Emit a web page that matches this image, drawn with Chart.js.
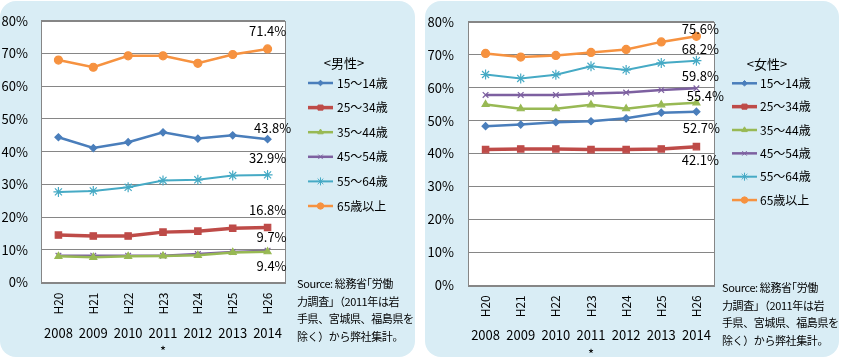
<!DOCTYPE html>
<html><head><meta charset="utf-8">
<script src="https://cdn.jsdelivr.net/npm/chart.js@4.4.1/dist/chart.umd.min.js"></script>
<style>
html,body{margin:0;padding:0;background:#fff;width:841px;height:360px;overflow:hidden;font-family:"Noto Sans CJK JP",sans-serif;}
.panel{position:absolute;top:1px;height:356px;background:#d9edf5;border-radius:16px;}
canvas{position:absolute;top:0;}
.src{position:absolute;font-size:11px;line-height:17.6px;color:#000;white-space:nowrap;letter-spacing:-0.4px;}
</style></head>
<body>
<div class="panel" style="left:0;width:415px"></div>
<div class="panel" style="left:425px;width:414px"></div>
<canvas id="cm" width="415" height="360" style="left:0;width:415px;height:360px"></canvas>
<canvas id="cf" width="414" height="360" style="left:425px;width:414px;height:360px"></canvas>
<div class="src" style="left:297px;top:275px">Source: 総務省｢労働<br>力調査」（2011年は岩<br>手県、宮城県、福島県を<br>除く）から弊社集計。</div>
<div class="src" style="left:722px;top:279px">Source: 総務省｢労働<br>力調査」（2011年は岩<br>手県、宮城県、福島県を<br>除く）から弊社集計。</div>
<script>
// ---- data ----
const heisei = ['H20','H21','H22','H23','H24','H25','H26'];
const years = ['2008','2009','2010','2011','2012','2013','2014'];
const noteYear = '2011';
const seriesNames = ['15～14歳','25～34歳','35～44歳','45～54歳','55～64歳','65歳以上'];
const yTicks = [0,10,20,30,40,50,60,70,80];

const male15 = [44.4, 41.1, 42.9, 45.9, 44.0, 45.0, 43.8];
const male25 = [14.5, 14.2, 14.2, 15.4, 15.7, 16.6, 16.8];
const male35 = [8.0, 7.7, 8.0, 8.1, 8.3, 9.2, 9.4];
const male45 = [8.2, 8.2, 8.2, 8.2, 8.7, 9.3, 9.7];
const male55 = [27.7, 28.0, 29.1, 31.2, 31.4, 32.7, 32.9];
const male65 = [68.0, 65.8, 69.3, 69.3, 67.0, 69.7, 71.4];

const female15 = [48.3, 48.8, 49.5, 49.8, 50.7, 52.4, 52.7];
const female25 = [41.2, 41.4, 41.4, 41.2, 41.2, 41.4, 42.1];
const female35 = [54.9, 53.6, 53.6, 54.8, 53.6, 54.8, 55.4];
const female45 = [57.8, 57.8, 57.8, 58.2, 58.5, 59.3, 59.8];
const female55 = [64.0, 62.8, 63.9, 66.5, 65.4, 67.5, 68.2];
const female65 = [70.4, 69.3, 69.8, 70.7, 71.6, 73.9, 75.6];

// ---- styles ----
const FONT = '"Noto Sans CJK JP", "Noto Sans", sans-serif';
Chart.defaults.font.family = FONT;
Chart.defaults.color = '#000';
const seriesStyle = [
  {color:'#4a7ebb', width:2.5, point:'rectRot', r:3.5},
  {color:'#be4b48', width:3.5, point:'rect', r:4.5},
  {color:'#98b954', width:2.5, point:'triangle', r:4},
  {color:'#7d60a0', width:2.5, point:'crossRot', r:4},
  {color:'#46aac5', width:2, point:'star', r:5},
  {color:'#f69240', width:2.5, point:'circle', r:4}
];

const framePlugin = {
  id:'frame',
  beforeDraw(chart){
    const {ctx, chartArea:a} = chart;
    ctx.save(); ctx.fillStyle='#fff'; ctx.fillRect(a.left,a.top,a.width,a.height); ctx.restore();
  },
  beforeDatasetsDraw(chart){
    const {ctx, chartArea:a} = chart;
    ctx.save(); ctx.strokeStyle='#868686'; ctx.lineWidth=1;
    ctx.strokeRect(Math.round(a.left)+0.5, Math.round(a.top)+0.5, Math.round(a.width), Math.round(a.height));
    ctx.restore();
  }
};

const endLabelPlugin = {
  id:'endLabels',
  afterDatasetsDraw(chart, args, opts){
    const ctx = chart.ctx;
    ctx.save();
    ctx.font = '13px ' + FONT; ctx.fillStyle='#000'; ctx.textAlign='center'; ctx.textBaseline='middle';
    chart.data.datasets.forEach((ds,i)=>{
      const meta = chart.getDatasetMeta(i);
      const n = ds.data.length-1;
      const p = meta.data[n];
      const off = opts.offsets[i];
      ctx.fillText(ds.data[n].toFixed(1)+'%', p.x+off[0], p.y+off[1]);
    });
    ctx.restore();
  }
};

const legendPlugin = {
  id:'sideLegend',
  afterDraw(chart, args, o){
    const ctx = chart.ctx;
    ctx.save();
    ctx.fillStyle='#000'; ctx.textBaseline='middle';
    ctx.font = '13px ' + FONT; ctx.textAlign='center';
    ctx.fillText(o.title, o.titleX, o.titleY);
    ctx.font = '12px ' + FONT; ctx.textAlign='left';
    chart.data.datasets.forEach((ds,i)=>{
      const y = o.y0 + i*o.step;
      ctx.strokeStyle = ds.borderColor; ctx.lineWidth = ds.borderWidth;
      ctx.beginPath(); ctx.moveTo(o.x0,y); ctx.lineTo(o.x1,y); ctx.stroke();
      ctx.fillStyle = ds.borderColor; ctx.strokeStyle = ds.borderColor; ctx.lineWidth = 1;
      Chart.helpers.drawPoint(ctx, {pointStyle: ds.pointStyle, radius: ds.pointRadius*0.8, borderWidth: 1, rotation:0}, (o.x0+o.x1)/2, y);
      ctx.fillStyle='#000';
      ctx.fillText(ds.label, o.textX, y);
    });
    ctx.restore();
  }
};

function buildChart(id, dataArrays, cfg){
  const yearLabels = years.map(y => y===noteYear ? [y,'*'] : y);
  return new Chart(document.getElementById(id), {
    type:'line',
    data:{
      labels: heisei,
      datasets: dataArrays.map((d,i)=>({
        label: seriesNames[i], data: d,
        borderColor: seriesStyle[i].color, backgroundColor: seriesStyle[i].color,
        borderWidth: seriesStyle[i].width, pointStyle: seriesStyle[i].point,
        pointRadius: seriesStyle[i].r, pointBorderWidth: 1.2,
        pointBackgroundColor: seriesStyle[i].color, pointBorderColor: seriesStyle[i].color,
        tension: 0, fill:false
      }))
    },
    options:{
      responsive:false, animation:false, devicePixelRatio:1,
      layout:{autoPadding:false, padding:{left:0, top:cfg.top, right:cfg.right, bottom:0}},
      plugins:{
        legend:{display:false}, tooltip:{enabled:false},
        endLabels:{offsets: cfg.offsets},
        sideLegend: cfg.legend
      },
      scales:{
        y:{
          min:0, max:80, afterBuildTicks(s){ s.ticks = yTicks.map(v=>({value:v})); },
          grid:{color:'#868686', lineWidth:1, drawTicks:false},
          border:{display:false},
          ticks:{font:{size:13}, padding:cfg.yPad, callback:v=>v+'%'},
          afterFit(s){ s.width = cfg.yWidth; }
        },
        x:{
          type:'category', offset:true,
          grid:{display:false, drawTicks:false}, border:{display:false},
          ticks:{font:{size:12}, minRotation:90, maxRotation:90, padding:cfg.hPad, autoSkip:false},
          afterFit(s){ s.height = 36; }
        },
        x2:{
          type:'category', position:'bottom', offset:true, labels: yearLabels,
          grid:{display:false, drawTicks:false}, border:{display:false},
          ticks:{font:{size:13, lineHeight:1.4}, maxRotation:0, minRotation:0, padding:5, autoSkip:false},
          afterFit(s){ s.height = cfg.x2Height; }
        }
      }
    },
    plugins:[framePlugin, endLabelPlugin, legendPlugin]
  });
}

buildChart('cm', [male15, male25, male35, male45, male55, male65], {
  top:14, right:130, yWidth:41, yPad:13, hPad:10, x2Height:41.5,
  offsets:[[5,-11],[0,-17],[4,14],[4,-14],[0,-17],[0,-18]],
  legend:{title:'<男性>', titleX:344, titleY:63, x0:308, x1:333, textX:337, y0:83, step:24.6}
});
buildChart('cf', [female15, female25, female35, female45, female55, female65], {
  top:14, right:125, yWidth:43, yPad:14, hPad:10, x2Height:38.7,
  offsets:[[5,16],[4,13],[9,-7],[4,-12],[4,-12],[4,-7]],
  legend:{title:'<女性>', titleX:342, titleY:64, x0:307, x1:332, textX:335, y0:83.3, step:23.35}
});
</script>
</body></html>
